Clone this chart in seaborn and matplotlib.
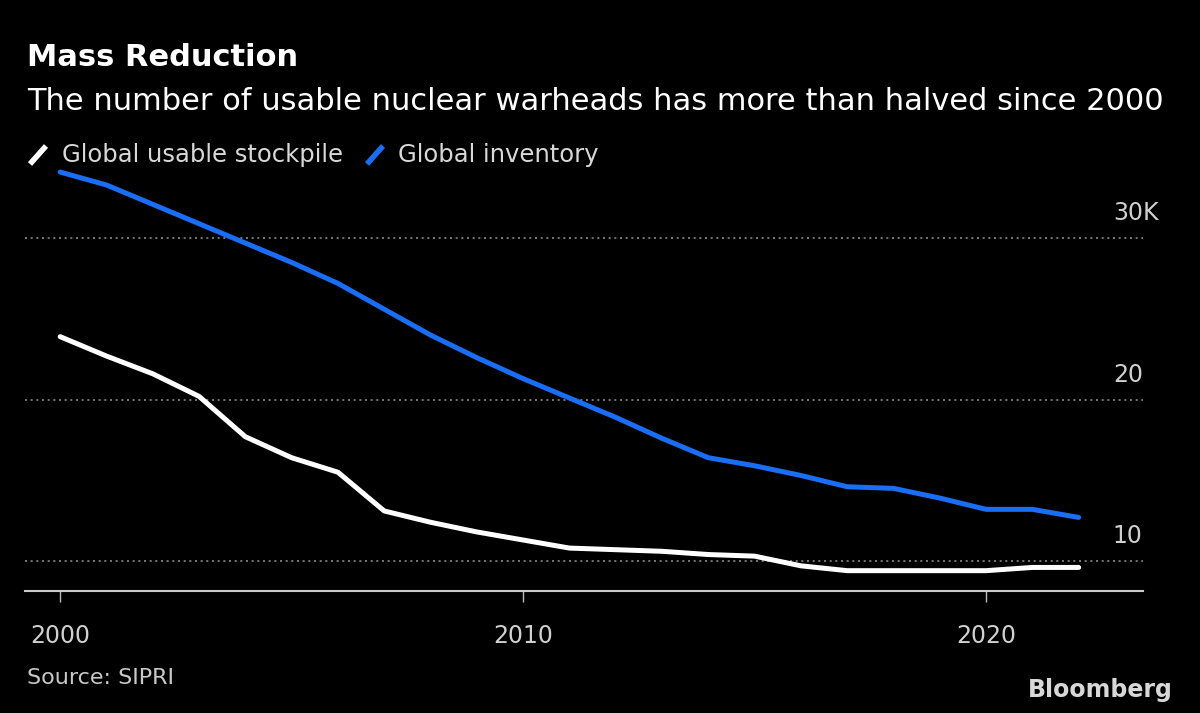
import numpy as np
import pandas as pd
import seaborn as sns
import matplotlib.pyplot as plt
from matplotlib.lines import Line2D

# Data (thousands of warheads)
years = list(range(2000, 2023))
usable_stockpile = [23.9, 22.7, 21.6, 20.2, 17.7, 16.4, 15.5, 13.1, 12.4, 11.8, 11.3, 10.8,
                    10.7, 10.6, 10.4, 10.3, 9.7, 9.4, 9.4, 9.4, 9.4, 9.6, 9.6]
global_inventory = [34.1, 33.3, 32.1, 30.9, 29.7, 28.5, 27.2, 25.6, 24.0, 22.6, 21.3, 20.1,
                    18.9, 17.6, 16.4, 15.9, 15.3, 14.6, 14.5, 13.9, 13.2, 13.2, 12.7]
series_names = ['Global usable stockpile', 'Global inventory']
ytick_vals = [10, 20, 30]
ytick_labels = ['10', '20', '30K']
xtick_vals = [2000, 2010, 2020]

df = pd.DataFrame({'Year': years,
                   series_names[0]: usable_stockpile,
                   series_names[1]: global_inventory})
df_long = df.melt(id_vars='Year', var_name='Series', value_name='Warheads')

sns.set_style('dark')
plt.rcParams['font.family'] = ['DejaVu Sans']

fig = plt.figure(figsize=(12, 7.13), dpi=100, facecolor='black')
ax = fig.add_axes([25 / 1200, 1 - 591 / 713, (1143 - 25) / 1200, (591 - 164) / 713])
ax.set_facecolor('black')

colors = {series_names[0]: 'white', series_names[1]: '#1a6ef5'}
sns.lineplot(data=df_long, x='Year', y='Warheads', hue='Series', palette=colors,
             linewidth=3.6, ax=ax, legend=False)

ax.set_xlim(1999.24, 2023.39)
ax.set_ylim(8.14, 34.6)

# dotted gridlines and right side labels
for v, lab in zip(ytick_vals, ytick_labels):
    ax.axhline(v, color='#8a8a8a', linestyle=(0, (1.2, 2.2)), linewidth=1.2, zorder=0)
    ax.text(0.973, v + 0.8, lab, transform=ax.get_yaxis_transform(), color='#d0d0d0',
            fontsize=17, ha='left', va='bottom')

ax.set_yticks([])
ax.set_xticks(xtick_vals)
ax.set_xticklabels([str(x) for x in xtick_vals], color='#d0d0d0', fontsize=17)
ax.tick_params(axis='x', bottom=True, direction='out', colors='#bbbbbb', length=8,
               width=1, pad=16, labelcolor='#d0d0d0')
ax.set_xlabel('')
ax.set_ylabel('')
ax.grid(False)
for s in ['top', 'right', 'left']:
    ax.spines[s].set_visible(False)
ax.spines['bottom'].set_color('#c8c8c8')
ax.spines['bottom'].set_linewidth(1.5)

# titles
fig.text(27 / 1200, 1 - 58 / 713, 'Mass Reduction', color='white', fontsize=22,
         fontweight='bold', va='center', ha='left')
fig.text(27 / 1200, 1 - 101 / 713,
         'The number of usable nuclear warheads has more than halved since 2000',
         color='white', fontsize=22, va='center', ha='left')

# legend
leg_items = [(30, 62, series_names[0], 'white'), (367, 398, series_names[1], '#1a6ef5')]
for x0, xt, name, c in leg_items:
    fig.add_artist(Line2D([x0 / 1200, (x0 + 16) / 1200], [1 - 164 / 713, 1 - 146 / 713],
                          color=c, linewidth=4, solid_capstyle='butt'))
    fig.text(xt / 1200, 1 - 155 / 713, name, color='#d8d8d8', fontsize=17.5,
             va='center', ha='left')

fig.text(27 / 1200, 1 - 678 / 713, 'Source: SIPRI', color='#c8c8c8', fontsize=16,
         va='center', ha='left')
fig.text(1173 / 1200, 1 - 690 / 713, 'Bloomberg', color='#d8d8d8', fontsize=17,
         fontweight='bold', va='center', ha='right')

fig.savefig('out.png', dpi=100, facecolor='black')
